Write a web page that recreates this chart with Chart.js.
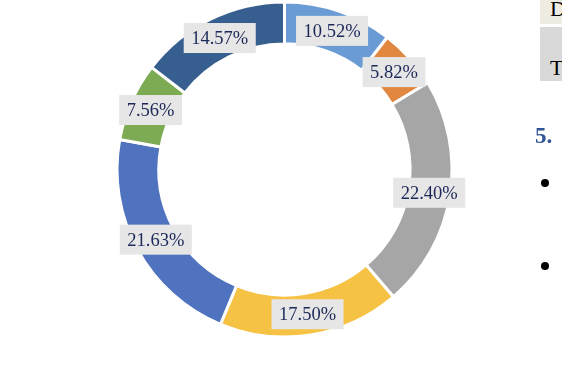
<!DOCTYPE html>
<html>
<head>
<meta charset="utf-8">
<script src="https://cdn.jsdelivr.net/npm/chart.js@4"></script>
<style>
  html, body { margin: 0; padding: 0; background: #fff; }
  #wrap { position: relative; width: 562px; height: 375px; overflow: hidden; }
  #chart { position: absolute; left: 0; top: 0; }
  .doc { position: absolute; font-family: "Liberation Serif", serif; color: #000; }
  .bullet { position: absolute; width: 8px; height: 8px; border-radius: 50%; background: #000; }
</style>
</head>
<body>
<div id="wrap">
  <canvas id="chart" width="562" height="375"></canvas>
  <div class="doc" style="left:540px;top:0;width:22px;height:24px;background:#EEEBE0;overflow:hidden;">
    <span style="position:absolute;left:10px;top:-4px;font-size:22px;">D</span>
  </div>
  <div class="doc" style="left:540px;top:27px;width:22px;height:54px;background:#D9D9D9;overflow:hidden;">
    <span style="position:absolute;left:10px;top:28px;font-size:22px;">T</span>
  </div>
  <div class="doc" style="left:535px;top:123px;font-size:23px;font-weight:bold;color:#2F5496;">5.</div>
  <div class="bullet" style="left:541px;top:179px;"></div>
  <div class="bullet" style="left:541px;top:262px;"></div>
</div>
<script>
// shares, clockwise from 12 o'clock
const labels = ['A', 'B', 'C', 'D', 'E', 'F', 'G'];
const shares = [10.52, 5.82, 22.40, 17.50, 21.63, 7.56, 14.57];
const colors = ['#6A9BD4', '#E2873F', '#A6A6A6', '#F5C243', '#5073BF', '#7CAB53', '#365F8F'];

// grey boxed percentage labels sitting on each arc
const boxLabels = {
    id: 'boxLabels',
    afterDatasetsDraw(chart) {
        const ctx = chart.ctx;
        const meta = chart.getDatasetMeta(0);
        ctx.save();
        ctx.font = '18.5px "Liberation Serif", "Times New Roman", serif';
        ctx.textAlign = 'center';
        ctx.textBaseline = 'middle';
        meta.data.forEach((arc, i) => {
            const p = arc.tooltipPosition();
            const txt = shares[i].toFixed(2) + '%';
            const w = ctx.measureText(txt).width + 15;
            const h = 30;
            ctx.fillStyle = '#E7E6E6';
            ctx.fillRect(p.x - w / 2, p.y - h / 2, w, h);
            ctx.fillStyle = '#1B2858';
            ctx.fillText(txt, p.x, p.y + 1);
        });
        ctx.restore();
    }
};

new Chart(document.getElementById('chart'), {
    type: 'doughnut',
    data: {
        labels: labels,
        datasets: [{
            data: shares,
            backgroundColor: colors,
            borderColor: '#ffffff',
            borderWidth: 3
        }]
    },
    options: {
        responsive: false,
        animation: false,
        radius: 167.5,
        cutout: '75%',
        layout: {padding: {left: 114, right: 107, top: 1, bottom: 37}},
        plugins: {
            legend: {display: false},
            tooltip: {enabled: false}
        }
    },
    plugins: [boxLabels]
});
</script>
</body>
</html>
